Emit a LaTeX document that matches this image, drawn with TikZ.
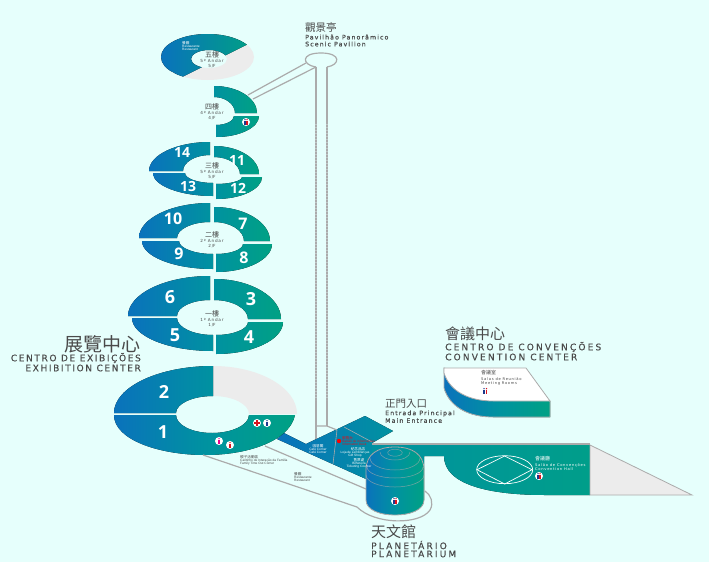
\documentclass[tikz,border=0pt]{standalone}
\usepackage{fontspec}
\setmainfont{Liberation Sans}
\newfontfamily\cjkfont{Noto Sans CJK TC}
\newfontfamily\widefont[LetterSpace=18,FakeBold=0.25]{DejaVu Sans}
\newfontfamily\widerfont[LetterSpace=24,FakeBold=0.25]{DejaVu Sans}
\newfontfamily\smallfont[LetterSpace=18]{DejaVu Sans}
\newfontfamily\numfont{Open Sans Bold}
\definecolor{bgcyan}{HTML}{E6FFFC}
\definecolor{deepblue}{HTML}{0A72BC}
\definecolor{midteal}{HTML}{0092A0}
\definecolor{deepgreen}{HTML}{00A184}
\definecolor{palegrey}{HTML}{ECECEC}
\definecolor{linegrey}{HTML}{ABABAB}
\definecolor{inkgrey}{HTML}{4A4A4A}
\definecolor{manblue}{HTML}{1B3A8C}
\definecolor{manred}{HTML}{D9141E}
\tikzset{
  leftpart/.style={left color=deepblue,right color=midteal,middle color=deepblue!50!midteal},
  rightpart/.style={left color=midteal,right color=deepgreen,middle color=midteal!50!deepgreen},
  fullpart/.style={left color=deepblue,right color=deepgreen,middle color=midteal},
  wall/.style={draw=linegrey,line width=1.2pt},
  bignum/.style={text=white,font=\numfont\fontsize{#1}{#1}\selectfont,inner sep=0pt},
  hallname/.style={text=inkgrey,font=\cjkfont\fontsize{#1}{#1}\selectfont,inner sep=0pt},
  hallline/.style={text=inkgrey,font=\widefont\fontsize{#1}{#1}\selectfont,inner sep=0pt},
  halllinewide/.style={text=inkgrey,font=\widerfont\fontsize{#1}{#1}\selectfont,inner sep=0pt},
  floorname/.style={text=inkgrey,font=\cjkfont\fontsize{7}{7}\selectfont,inner sep=0pt},
  floorline/.style={text=inkgrey,font=\smallfont\fontsize{4.2}{4.2}\selectfont,inner sep=0pt},
  tinyname/.style={font=\cjkfont\fontsize{3.6}{3.6}\selectfont,inner sep=0pt},
  tinyline/.style={font=\fontsize{3.2}{3.2}\selectfont,inner sep=0pt},
  midname/.style={font=\cjkfont\fontsize{5}{5}\selectfont,inner sep=0pt},
  midline/.style={font=\smallfont\fontsize{3.7}{3.7}\selectfont,inner sep=0pt},
  iconbg/.style={circle,fill=white,inner sep=0pt,minimum size=8pt},
}
% one quarter of a ring: style, cut x, cut y, outer x, outer y, inner x, inner y
\newcommand{\ringpart}[7]{
  \fill[#1] (#4,#3) .. controls (#4,{#3+.55*(#5-#3)}) and ({#2+.55*(#4-#2)},#5) .. (#2,#5)
    -- (#2,#7) .. controls ({#2+.55*(#6-#2)},#7) and (#6,{#3+.55*(#7-#3)}) .. (#6,#3) -- cycle;
}
\newcommand{\visitor}[3]{
  \fill[#3] (#1,#2-2.3) circle (0.75);
  \fill[#3] (#1-0.8,#2-1.3) rectangle (#1+0.8,#2+2.7);
}
\newcommand{\wcicon}[3]{
  \node[iconbg] (#1) at (#2,#3) {};
  \visitor{#2-1}{#3}{manblue}
  \visitor{#2+1}{#3}{manred}
}
\newcommand{\manicon}[4]{
  \node[iconbg] (#1) at (#2,#3) {};
  \visitor{#2}{#3}{#4}
}
\begin{document}
\begin{tikzpicture}[x=1pt,y=-1pt]
  \useasboundingbox (0,0) rectangle (709,562);
  \fill[bgcyan] (0,0) rectangle (709,562);

  % panoramic pavilion
  \coordinate (towerL) at (316,67);
  \coordinate (towerR) at (327,67);
  \coordinate (towerLf) at (316,440);
  \coordinate (towerRf) at (327,426);
  \coordinate (linkA) at (306,63);
  \coordinate (linkB) at (248,95);
  \coordinate (linkC) at (316,67);
  \coordinate (linkD) at (253,99);
  \draw[wall] (linkA) -- (linkB);
  \draw[wall] (linkC) -- (linkD);
  \draw[wall] (towerL) -- (towerLf);
  \draw[wall] (towerR) -- (towerRf);
  \draw[wall] (towerL) .. controls (302,65) and (300,53) .. (321,53) .. controls (342,53) and (340,65) .. (towerR);
  \foreach \xx in {316,327} {
    \draw[bgcyan,line width=1.4pt,dash pattern=on 1pt off 2pt,opacity=0.35] (\xx,124) -- (\xx,400);
  }

  % fifth floor
  \fill[palegrey,even odd rule] (207.5,57) ellipse (46.5 and 23) (209,59) ellipse (18 and 9);
  \begin{scope}
    \clip (248,44) -- (182,77) -- (150,60) -- (150,20) -- (248,20) -- cycle;
    \fill[left color=deepblue,right color=deepgreen,even odd rule] (207.5,57) ellipse (46.5 and 23) (209,59) ellipse (18 and 9);
  \end{scope}

  % fourth floor
  \ringpart{rightpart}{214}{113}{257}{86}{235}{97}
  \ringpart{rightpart}{216}{116}{259}{137}{234}{125}

  % third floor
  \ringpart{leftpart}{210}{171}{149}{142}{183}{155}
  \ringpart{rightpart}{214}{174}{259}{146}{240}{157}
  \ringpart{leftpart}{213}{173}{153}{196}{185}{183}
  \ringpart{rightpart}{216}{177}{262}{199}{242}{184}

  % second floor
  \ringpart{leftpart}{210}{238}{139}{203}{177}{222}
  \ringpart{rightpart}{214}{241}{270}{207}{244}{222}
  \ringpart{leftpart}{213}{241}{142}{269}{179}{254}
  \ringpart{rightpart}{216}{244}{272}{272}{243}{254}

  % first floor
  \ringpart{leftpart}{210}{316}{128}{276}{177}{300}
  \ringpart{rightpart}{214}{319}{281}{279}{248}{300}
  \ringpart{leftpart}{213}{318}{132}{351}{177}{335}
  \ringpart{rightpart}{216}{322}{283}{354}{248}{335}

  % exhibition center
  \coordinate (groundA) at (265,446);
  \coordinate (groundB) at (366,489);
  \coordinate (groundC) at (203,455);
  \coordinate (groundD) at (357,507);

  % entrance block
  \fill[left color=deepblue,right color=midteal] (277,439) -- (284,433) -- (306,444) -- (365,416) -- (393,431) -- (372,443) -- (372,480) -- (366,479) -- cycle;
  \draw[linegrey,line width=0.6pt] (337,430) -- (333,464);
  \draw[linegrey,line width=0.6pt] (344,427) -- (372,442);
  \draw[wall] (316,426) -- (327,426) -- (337,430);

  \ringpart{palegrey}{213}{414}{297}{366}{249}{396}
  \ringpart{leftpart}{213}{413}{114}{366}{176}{396}
  \fill[fullpart] (114,415) .. controls (114,440) and (160,455) .. (205,455) .. controls (250,455) and (290,440) .. (295,415)
    -- (249,415) .. controls (249,425) and (232,433) .. (212,433) .. controls (192,433) and (176,425) .. (176,415) -- cycle;
  \draw[wall] (groundA) -- (groundB);
  \draw[wall] (groundC) -- (groundD);

  % planetarium ground
  \draw[wall] (groundD) .. controls (375,525) and (420,525) .. (430,510) .. controls (434,503) and (431,495) .. (425,491);

  % convention hall
  \fill[left color=midteal,right color=deepgreen!80!midteal] (372,445) -- (590,445) -- (590,495) -- (545,495) .. controls (490,495) and (444,485) .. (444,456) -- (424,456) -- (424,470) -- (372,460) -- cycle;
  \fill[palegrey,draw=linegrey,line width=0.8pt] (590,445) -- (692,495) -- (590,495) -- cycle;
  \draw[wall] (372,444) -- (590,444);
  \draw[white,line width=0.7pt] (504.7,469.7) ellipse (28 and 14);
  \draw[white,line width=0.7pt] (477,469.7) -- (504.7,456) -- (532,469.7) -- (504.7,484) -- cycle;

  % planetarium
  \fill[fullpart,draw=linegrey,line width=0.8pt] (366,500) -- (366,470) .. controls (366,454) and (378,447) .. (395,447)
    .. controls (412,447) and (424,454) .. (424,470) -- (424,500) .. controls (424,510) and (410,515) .. (395,515) .. controls (380,515) and (366,510) .. (366,500) -- cycle;
  \draw[linegrey,opacity=0.7,line width=0.5pt] (395,452.7) ellipse (7.3 and 3.5);
  \foreach \cy/\rx/\ry in {452/15/8, 458/25/12, 467/28/11, 475/29/12} {
    \draw[linegrey,opacity=0.7,line width=0.5pt] (395-\rx,\cy) arc[start angle=180,end angle=0,x radius=\rx,y radius=\ry];
  }

  % meeting rooms
  \fill[fullpart,draw=linegrey,line width=0.8pt] (444,368) -- (444,388) .. controls (450,408) and (470,417) .. (493,417) -- (550,417) -- (550,401) -- cycle;
  \fill[white,draw=linegrey,line width=0.8pt] (444,368) -- (526,368) -- (550,401) -- (493,401) .. controls (470,401) and (450,392) .. (444,373) -- cycle;

  % numbers
  \node[bignum=18] (n1) at (163,432) {1};
  \node[bignum=18] (n2) at (164,392) {2};
  \node[bignum=18] (n3) at (251,299) {3};
  \node[bignum=18] (n4) at (249,337) {4};
  \node[bignum=18] (n5) at (175,335) {5};
  \node[bignum=18] (n6) at (170,297) {6};
  \node[bignum=16] (n7) at (243,224) {7};
  \node[bignum=16] (n8) at (244,258) {8};
  \node[bignum=16] (n9) at (179,254) {9};
  \node[bignum=16] (n10) at (173,219) {10};
  \node[bignum=14] (n11) at (237,161) {11};
  \node[bignum=14] (n12) at (238,188) {12};
  \node[bignum=14] (n13) at (188,186) {13};
  \node[bignum=14] (n14) at (182,153) {14};

  % floor names
  \foreach \nm/\cn/\pt/\ft/\yy in {five/五樓/5º Andar/5\slash F/55, four/四樓/4º Andar/4\slash F/107, three/三樓/5º Andar/5\slash F/166, two/二樓/2º Andar/2\slash F/235, one/一樓/1º Andar/1\slash F/314} {
    \node[floorname] (\nm a) at (212,\yy) {\cn};
    \node[floorline] (\nm b) at (212,\yy+6.3) {\pt};
    \node[floorline] (\nm c) at (212,\yy+11.5) {\ft};
  }

  % hall names
  \node[hallname=19,anchor=east] (exhibitCn) at (141,344) {展覽中心};
  \node[hallline=9,anchor=east] (exhibitPt) at (141,358) {CENTRO DE EXIBIÇÕES};
  \node[hallline=9,anchor=east] (exhibitEn) at (141,368) {EXHIBITION CENTER};
  \node[hallname=15,anchor=west] (conventCn) at (445,334) {會議中心};
  \node[halllinewide=9,anchor=west] (conventPt) at (445,347) {CENTRO DE CONVENÇÕES};
  \node[halllinewide=9,anchor=west] (conventEn) at (445,357) {CONVENTION CENTER};
  \node[hallname=15,anchor=west] (planetCn) at (371,532) {天文館};
  \node[halllinewide=9,anchor=west] (planetPt) at (371,545) {PLANETÁRIO};
  \node[halllinewide=9,anchor=west] (planetEn) at (371,554) {PLANETARIUM};
  \node[hallname=10.5,anchor=west] (pavilCn) at (305,27) {觀景亭};
  \node[hallline=6.2,anchor=west] (pavilPt) at (305,37) {Pavilhão Panorâmico};
  \node[hallline=6.2,anchor=west] (pavilEn) at (305,44) {Scenic Pavilion};
  \node[hallname=10.5,anchor=west] (entryCn) at (385,404) {正門入口};
  \node[hallline=6.2,anchor=west] (entryPt) at (385,413.5) {Entrada Principal};
  \node[hallline=6.2,anchor=west] (entryEn) at (385,420.5) {Main Entrance};

  % small labels
  \node[tinyname,text=white,anchor=west] (restA) at (182,43) {餐廳};
  \node[tinyline,text=white,anchor=west] (restB) at (182,46.5) {Restaurante};
  \node[tinyline,text=white,anchor=west] (restC) at (182,49.5) {Restaurant};
  \node[tinyname,text=inkgrey,anchor=west] (famA) at (240,457) {親子活動區};
  \node[tinyline,text=inkgrey,anchor=west] (famB) at (240,460.5) {Cantinho de Interação da Família};
  \node[tinyline,text=inkgrey,anchor=west] (famC) at (240,463.5) {Family Time Out Corner};
  \node[tinyname,text=inkgrey,anchor=west] (eatA) at (294,474) {餐廳};
  \node[tinyline,text=inkgrey,anchor=west] (eatB) at (294,477.5) {Restaurante};
  \node[tinyline,text=inkgrey,anchor=west] (eatC) at (294,480.5) {Restaurant};
  \node[tinyname,text=white] (cafeA) at (318,446) {咖啡閣};
  \node[tinyline,text=white] (cafeB) at (318,449.5) {Café Corner};
  \node[tinyline,text=white] (cafeC) at (318,452.5) {Café Corner};
  \fill[red] (339,441) circle (2.2);
  \node[tinyname,text=manred,anchor=west] (infoA) at (342,438) {服務台};
  \node[tinyline,text=manred,anchor=west] (infoB) at (342,441.5) {Balcão de Informações};
  \node[tinyline,text=manred,anchor=west] (infoC) at (342,444.5) {Information Desk};
  \node[tinyname,text=white] (giftA) at (358,449) {紀念品店};
  \node[tinyline,text=white] (giftB) at (355,452.5) {Loja de Lembranças};
  \node[tinyline,text=white] (giftC) at (355,455.5) {Gift Shop};
  \node[tinyname,text=white] (ticketA) at (359,460) {售票處};
  \node[tinyline,text=white] (ticketB) at (359,463.5) {Bilheteira};
  \node[tinyline,text=white] (ticketC) at (359,466.5) {Ticketing Counter};
  \node[midname,text=inkgrey,anchor=west] (meetA) at (481,373) {會議室};
  \node[midline,text=inkgrey,anchor=west] (meetB) at (481,379) {Salas de Reunião};
  \node[midline,text=inkgrey,anchor=west] (meetC) at (481,383) {Meeting Rooms};
  \node[midname,text=white,anchor=west] (hallA) at (535,459) {會議廳};
  \node[midline,text=white,anchor=west] (hallB) at (535,465) {Salão de Convenções};
  \node[midline,text=white,anchor=west] (hallC) at (535,469) {Convention Hall};

  % icons
  \wcicon{wcFour}{246}{122}
  \wcicon{wcPlanet}{395}{501}
  \wcicon{wcHall}{539}{476}
  \visitor{484}{391}{manblue}
  \visitor{486.5}{391}{manred}
  \node[iconbg] (aid) at (257,423) {};
  \fill[manred] (254,422) rectangle (260,424);
  \fill[manred] (256,420) rectangle (258,426);
  \manicon{manA}{267}{423}{manblue}
  \manicon{babyA}{219}{441}{magenta}
  \manicon{manB}{230}{445}{manred}
\end{tikzpicture}
\end{document}
